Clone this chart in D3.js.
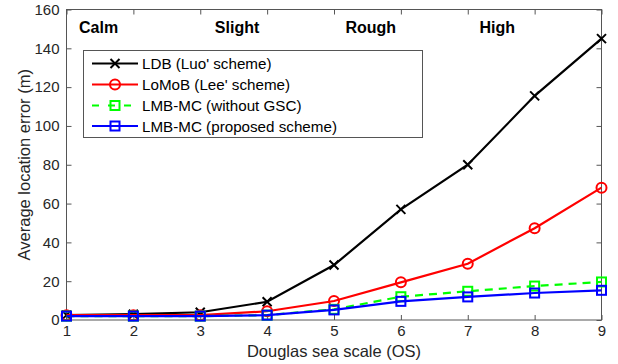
<!DOCTYPE html>
<html><head><meta charset="utf-8">
<script src="https://cdn.jsdelivr.net/npm/d3@7"></script>
<style>body{margin:0;background:#fff}svg{display:block}text{font-family:"Liberation Sans",Arial,sans-serif}</style>
</head><body><svg id="c" width="618" height="364"></svg>
<script>
const xs = [1,2,3,4,5,6,7,8,9];
const ldb = [2.5,3,4,9.4,28.3,57,80,115.5,145];
const lomob = [2.5,2.5,2.5,4.5,9.8,19.4,29,47.3,68.2];
const noGsc = [2,2,2,2.5,5.5,12,14.8,17.5,19.6];
const proposed = [2,2,2,2.5,5.2,9.6,11.9,13.9,15.3];
const yTicks = [0,20,40,60,80,100,120,140,160];
const seaStates = ["Calm","Slight","Rough","High"];
const seaStateX = [1.48,3.55,5.55,7.44];
const seriesNames = ["LDB (Luo' scheme)","LoMoB (Lee' scheme)","LMB-MC (without GSC)","LMB-MC (proposed scheme)"];

const svg = d3.select("#c");
const L=66.5, R=601.5, T=9.5, B=320;
const x = d3.scaleLinear().domain([1,9]).range([L,R]);
const y = d3.scaleLinear().domain([0,160]).range([B,T]);
const axCol="#262626", boxCol="#555";

svg.append("rect").attr("x",L).attr("y",T).attr("width",R-L).attr("height",B-T)
  .attr("fill","none").attr("stroke",boxCol).attr("stroke-width",1);

const xa = svg.append("g").attr("transform",`translate(0,${B})`)
  .call(d3.axisBottom(x).tickValues(xs).tickSize(-5).tickPadding(5).tickFormat(d3.format("d")));
const xt = svg.append("g").attr("transform",`translate(0,${T})`)
  .call(d3.axisTop(x).tickValues(xs).tickSize(-5).tickFormat(""));
const ya = svg.append("g").attr("transform",`translate(${L},0)`)
  .call(d3.axisLeft(y).tickValues(yTicks).tickSize(-5).tickPadding(7));
const yr = svg.append("g").attr("transform",`translate(${R},0)`)
  .call(d3.axisRight(y).tickValues(yTicks).tickSize(-5).tickFormat(""));
[xa,xt,ya,yr].forEach(g=>{
  g.select(".domain").remove();
  g.selectAll("line").attr("stroke",boxCol);
  g.selectAll("text").attr("fill",axCol).style("font-size","15px").style("font-family","Liberation Sans, Arial, sans-serif");
});

svg.append("text").attr("x",(L+R)/2).attr("y",356.5).attr("text-anchor","middle")
  .attr("fill",axCol).style("font-size","16.5px").text("Douglas sea scale (OS)");
svg.append("text").attr("transform",`translate(29.5,${(T+B)/2}) rotate(-90)`).attr("text-anchor","middle")
  .attr("fill",axCol).style("font-size","16.5px").text("Average location error (m)");

seaStates.forEach((s,i)=>{
  svg.append("text").attr("x",x(seaStateX[i])).attr("y",33).attr("text-anchor","middle")
    .attr("fill","#000").style("font-size","16px").style("font-weight","bold").text(s);
});

const series = [
  {v:ldb,c:"#000",m:"x",dash:null},
  {v:lomob,c:"#ff0000",m:"o",dash:null},
  {v:noGsc,c:"#00ff00",m:"s",dash:"8,6"},
  {v:proposed,c:"#0000ff",m:"s",dash:null}
];
const line = d3.line().x((d,i)=>x(xs[i])).y(d=>y(d));
function marker(g,m,c,cx,cy){
  if(m==="x"){
    g.append("path").attr("d",`M${cx-4.5},${cy-4.5}L${cx+4.5},${cy+4.5}M${cx-4.5},${cy+4.5}L${cx+4.5},${cy-4.5}`)
      .attr("stroke",c).attr("stroke-width",2).attr("fill","none");
  } else if(m==="o"){
    g.append("circle").attr("cx",cx).attr("cy",cy).attr("r",5).attr("stroke",c).attr("stroke-width",2).attr("fill","none");
  } else {
    g.append("rect").attr("x",cx-4.5).attr("y",cy-4.5).attr("width",9).attr("height",9)
      .attr("stroke",c).attr("stroke-width",2).attr("fill","none");
  }
}
series.forEach(s=>{
  const g=svg.append("g");
  g.append("path").datum(s.v).attr("d",line).attr("fill","none").attr("stroke",s.c)
    .attr("stroke-width",2.2).attr("stroke-dasharray",s.dash);
  s.v.forEach((d,i)=>marker(g,s.m,s.c,x(xs[i]),y(d)));
});

const lg = svg.append("g");
lg.append("rect").attr("x",83.5).attr("y",50.5).attr("width",339).attr("height",87)
  .attr("fill","#fff").attr("stroke",boxCol).attr("stroke-width",1);
const ly=[63.5,84.5,105.5,126];
series.forEach((s,i)=>{
  lg.append("line").attr("x1",92).attr("x2",138).attr("y1",ly[i]).attr("y2",ly[i])
    .attr("stroke",s.c).attr("stroke-width",2.2).attr("stroke-dasharray",s.dash?"7,9":null);
  marker(lg,s.m,s.c,115,ly[i]);
  lg.append("text").attr("x",142).attr("y",ly[i]+5.5).attr("fill","#000")
    .style("font-size","15.2px").text(seriesNames[i]);
});
</script></body></html>
